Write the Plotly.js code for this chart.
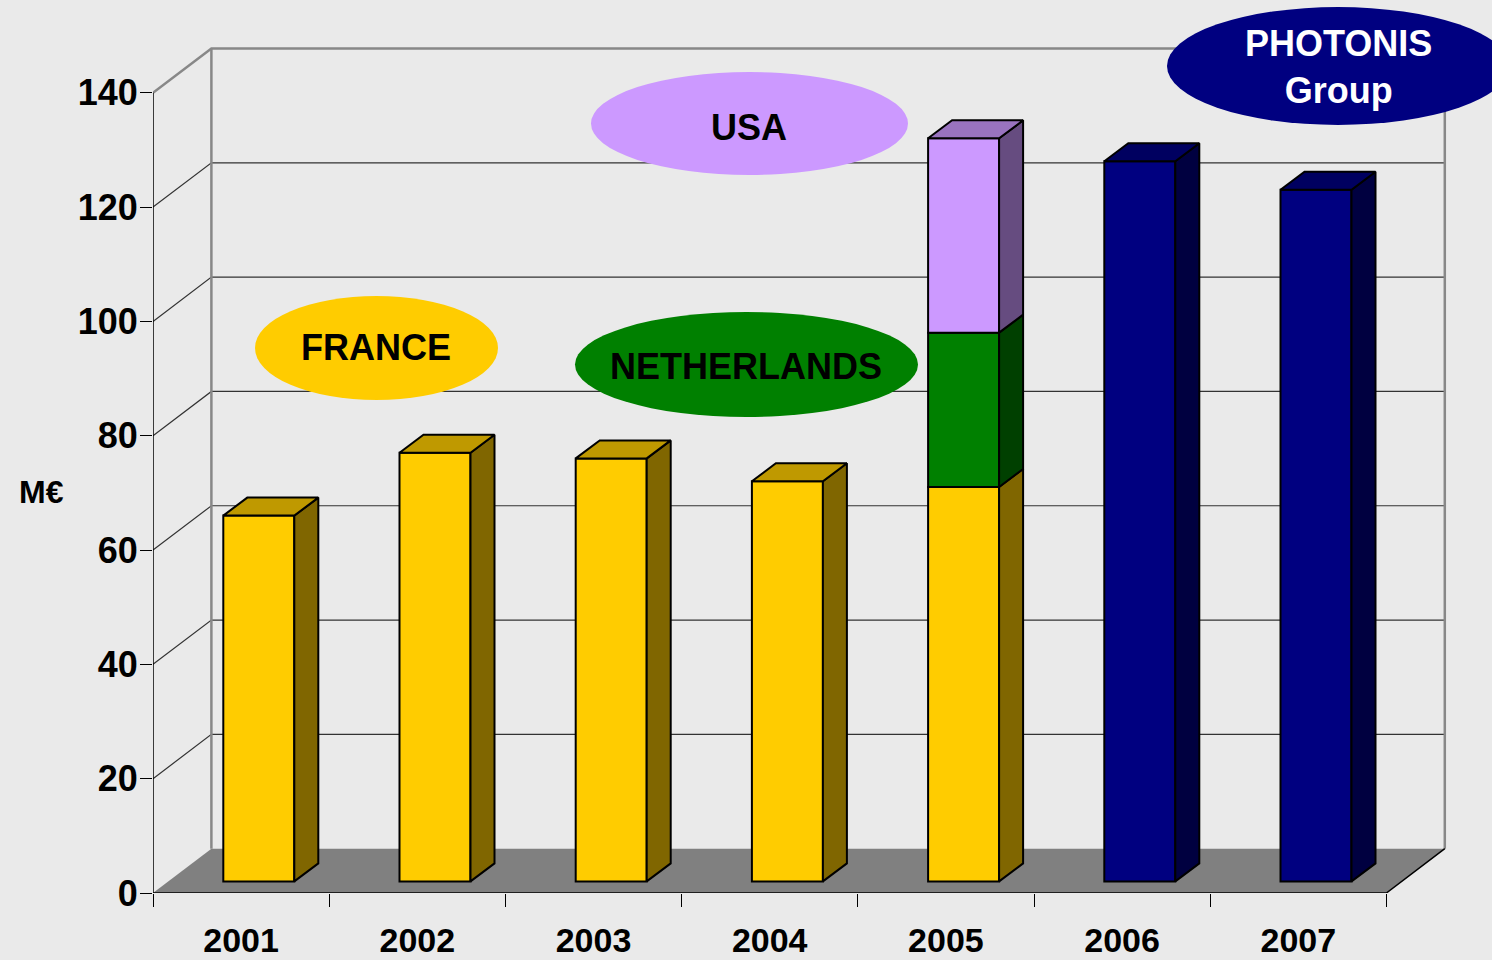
<!DOCTYPE html>
<html>
<head>
<meta charset="utf-8">
<script src="https://cdn.plot.ly/plotly-3.0.1.min.js"></script>
<style>
  html, body { margin: 0; padding: 0; background: #EAEAEA; }
  #chart { width: 1492px; height: 960px; }
</style>
</head>
<body>
<div id="chart"></div>
<script>
// ---------------- DATA ----------------
const years = ['2001', '2002', '2003', '2004', '2005', '2006', '2007'];
const france = [64, 75, 74, 70, 69, null, null];
const netherlands = [null, null, null, null, 27, null, null];
const usa = [null, null, null, null, 34, null, null];
const photonisGroup = [null, null, null, null, null, 126, 121];
const yTicks = [0, 20, 40, 60, 80, 100, 120, 140];
const yAxisLabel = 'M€';
const labelFrance = 'FRANCE';
const labelNetherlands = 'NETHERLANDS';
const labelUSA = 'USA';
const labelPhotonis = 'PHOTONIS<br>Group';

// ---------------- LAYOUT GEOMETRY ----------------
const W = 1492, H = 960;
const L = 153, T = 0, Bpx = 893;        // plot area edges in px
const KX = 176.2;                        // px per category
const KY = 5.716;                        // px per value unit
const plotW = W - L, plotH = Bpx - T;
const xMin = -0.5, xMax = -0.5 + plotW / KX;
const yMin = 0, yMax = plotH / KY;
const yTop = yTicks[yTicks.length - 1];
const nCat = years.length;
const xLeft = -0.5, xRight = nCat - 0.5;

// depth of the chart "box" (back wall offset)
const WDX = 58.4 / KX, WDY = 44.3 / KY;
// bar geometry
const FACE_OFF = -17.8 / KX, FACE_W = 71 / KX;
const BAR_BASE = 11.6 / KY;
const BDX = 24 / KX, BDY = 18 / KY;

const FONT = 'Liberation Sans, Arial, Helvetica, sans-serif';

const series = [
  { name: 'France', values: france, front: '#FFCC00', top: '#BF9900', side: '#806600' },
  { name: 'Netherlands', values: netherlands, front: '#008000', top: '#006000', side: '#004000' },
  { name: 'USA', values: usa, front: '#CC99FF', top: '#9973BF', side: '#664C80' },
  { name: 'PHOTONIS Group', values: photonisGroup, front: '#000080', top: '#000060', side: '#000040' }
];

const idx = years.map((_, i) => i);
const cum = years.map(() => BAR_BASE);
const topSeries = years.map(() => -1);
const barTraces = [];
const sideTraces = [];

series.forEach((s, si) => {
  const base = cum.slice();
  const sx = [], sy = [];
  s.values.forEach((v, i) => {
    if (v === null || v === undefined) return;
    const xr = i + FACE_OFF + FACE_W;
    const y0 = cum[i], y1 = cum[i] + v;
    sx.push(xr, xr + BDX, xr + BDX, xr, xr, null);
    sy.push(y0, y0 + BDY, y1 + BDY, y1, y0, null);
    cum[i] = y1;
    topSeries[i] = si;
  });
  barTraces.push({
    type: 'bar', name: s.name, x: idx, y: s.values, base: base,
    width: FACE_W, offset: FACE_OFF,
    marker: { color: s.front, line: { color: '#000000', width: 2 } },
    hoverinfo: 'skip', showlegend: false
  });
  sideTraces.push({
    type: 'scatter', mode: 'lines', x: sx, y: sy, xaxis: 'x2', yaxis: 'y',
    fill: 'toself', fillcolor: s.side,
    line: { color: '#000000', width: 2 }, hoverinfo: 'skip', showlegend: false
  });
});

// top faces
const topTraces = series.map((s, si) => {
  const tx = [], ty = [];
  topSeries.forEach((ts, i) => {
    if (ts !== si) return;
    const xl = i + FACE_OFF, xr = xl + FACE_W, yt = cum[i];
    tx.push(xl, xl + BDX, xr + BDX, xr, xl, null);
    ty.push(yt, yt + BDY, yt + BDY, yt, yt, null);
  });
  return {
    type: 'scatter', mode: 'lines', x: tx, y: ty, xaxis: 'x2', yaxis: 'y',
    fill: 'toself', fillcolor: s.top,
    line: { color: '#000000', width: 2 }, hoverinfo: 'skip', showlegend: false
  };
});

// ---------------- SHAPES (walls, floor, grid) ----------------
const shapes = [];
// floor
shapes.push({
  type: 'path', xref: 'x', yref: 'y', layer: 'below',
  path: `M ${xLeft},0 L ${xRight},0 L ${xRight + WDX},${WDY} L ${xLeft + WDX},${WDY} Z`,
  fillcolor: '#808080', line: { width: 0 }
});
// gridlines (side wall diagonal + back wall horizontal)
yTicks.forEach(v => {
  if (v === 0 || v === yTop) return;
  shapes.push({
    type: 'path', xref: 'x', yref: 'y', layer: 'below',
    path: `M ${xLeft},${v} L ${xLeft + WDX},${v + WDY} L ${xRight + WDX},${v + WDY}`,
    line: { color: '#333333', width: 1.2 }
  });
});
// wall outline
shapes.push({
  type: 'path', xref: 'x', yref: 'y', layer: 'below',
  path: `M ${xLeft},${yTop} L ${xLeft + WDX},${yTop + WDY} L ${xRight + WDX},${yTop + WDY} L ${xRight + WDX},${WDY}`,
  line: { color: '#888888', width: 2.5 }
});
shapes.push({
  type: 'path', xref: 'x', yref: 'y', layer: 'below',
  path: `M ${xLeft + WDX},${yTop + WDY} L ${xLeft + WDX},${WDY}`,
  line: { color: '#888888', width: 2.5 }
});
// front floor edge and right floor edge
shapes.push({
  type: 'path', xref: 'x', yref: 'y', layer: 'below',
  path: `M ${xLeft},0 L ${xRight},0 L ${xRight + WDX},${WDY}`,
  line: { color: '#000000', width: 1.5 }
});
// front value axis line
shapes.push({
  type: 'path', xref: 'x', yref: 'y', layer: 'below',
  path: `M ${xLeft},0 L ${xLeft},${yTop}`,
  line: { color: '#000000', width: 1.5 }
});

// ---------------- LABEL ELLIPSES ----------------
const px2x = p => (p - L) / plotW;
const py2y = p => (Bpx - p) / plotH;
function ellipse(x0, x1, y0, y1, color) {
  return {
    type: 'circle', xref: 'paper', yref: 'paper', layer: 'above',
    x0: px2x(x0), x1: px2x(x1), y0: py2y(y1), y1: py2y(y0),
    fillcolor: color, line: { width: 0 }
  };
}
shapes.push(ellipse(255, 498, 296, 400, '#FFCC00'));
shapes.push(ellipse(575, 918, 312, 417, '#008000'));
shapes.push(ellipse(591, 908, 72, 175, '#CC99FF'));
shapes.push(ellipse(1167, 1509, 7, 125, '#000080'));

function label(text, cx, cy, color) {
  return {
    text: text, xref: 'paper', yref: 'paper', x: px2x(cx), y: py2y(cy),
    xanchor: 'center', yanchor: 'middle', showarrow: false,
    font: { family: FONT, size: 36, color: color, weight: 'bold' }
  };
}
const annotations = [
  label(labelFrance, 376, 348, '#000000'),
  label(labelNetherlands, 746, 366, '#000000'),
  label(labelUSA, 749, 127, '#000000'),
  label(labelPhotonis, 1338, 67, '#FFFFFF'),
  {
    text: yAxisLabel, xref: 'paper', yref: 'paper', x: px2x(41), y: py2y(492),
    xanchor: 'center', yanchor: 'middle', showarrow: false,
    font: { family: FONT, size: 32, color: '#000000', weight: 'bold' }
  }
];

const layout = {
  width: W, height: H,
  margin: { l: L, r: W - L - plotW, t: T, b: H - Bpx, pad: 0 },
  paper_bgcolor: '#EAEAEA', plot_bgcolor: 'rgba(0,0,0,0)',
  showlegend: false, barmode: 'overlay',
  font: { family: FONT, color: '#000000' },
  xaxis: {
    type: 'linear', range: [xMin, xMax], fixedrange: true, automargin: false,
    tickmode: 'array', tickvals: idx, ticktext: years, ticks: '',
    ticklabelstandoff: 24,
    showgrid: false, zeroline: false, showline: false,
    tickfont: { family: FONT, size: 34, color: '#000000', weight: 'bold' }
  },
  xaxis2: {
    type: 'linear', range: [xMin, xMax], fixedrange: true, automargin: false,
    overlaying: 'x', anchor: 'y', side: 'bottom',
    tickmode: 'array', tickvals: idx.concat([nCat]).map(i => i - 0.5),
    ticks: 'outside', ticklen: 13, tickwidth: 1, tickcolor: '#000000',
    showticklabels: false, showgrid: false, zeroline: false, showline: false
  },
  yaxis: {
    type: 'linear', range: [yMin, yMax], fixedrange: true, automargin: false,
    tickmode: 'array', tickvals: yTicks,
    ticks: 'outside', ticklen: 12, tickwidth: 1, tickcolor: '#000000',
    ticklabelstandoff: -5,
    showgrid: false, zeroline: false, showline: false,
    tickfont: { family: FONT, size: 36, color: '#000000', weight: 'bold' }
  },
  shapes: shapes,
  annotations: annotations
};

Plotly.newPlot('chart', barTraces.concat(sideTraces, topTraces), layout,
  { staticPlot: true, displayModeBar: false });
</script>
</body>
</html>
